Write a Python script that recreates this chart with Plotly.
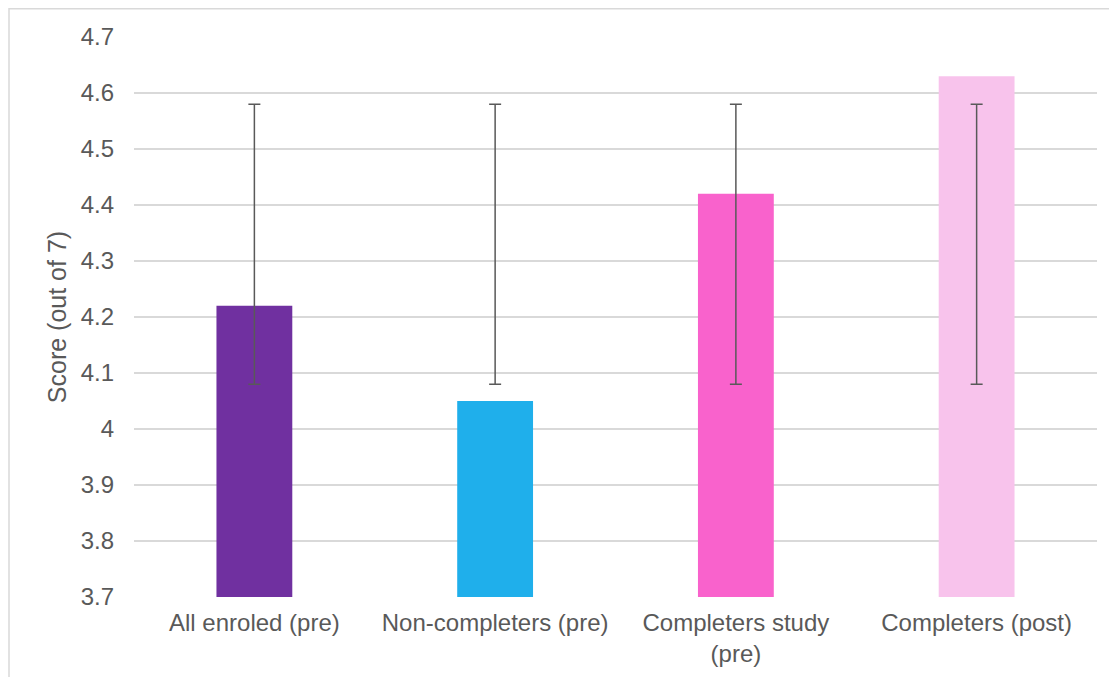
import plotly.graph_objects as go

categories = ["All enroled (pre)", "Non-completers (pre)", "Completers study<br>(pre)", "Completers (post)"]
scores = [4.22, 4.05, 4.42, 4.63]
err_low = [4.08, 4.08, 4.08, 4.08]
err_high = [4.58, 4.58, 4.58, 4.58]
colors = ["#7030A0", "#1FAFEB", "#F962CC", "#F8C3EC"]
y_ticks = [3.7, 3.8, 3.9, 4.0, 4.1, 4.2, 4.3, 4.4, 4.5, 4.6, 4.7]

mid = [(a + b) / 2 for a, b in zip(err_low, err_high)]
half = [(b - a) / 2 for a, b in zip(err_low, err_high)]

font_family = "Liberation Sans, Arial, sans-serif"
grey = "#595959"

fig = go.Figure()
fig.add_trace(go.Bar(
    x=categories, y=scores, marker=dict(color=colors, line=dict(width=0)),
    showlegend=False, hoverinfo="x+y",
))
fig.add_trace(go.Scatter(
    x=categories, y=mid, mode="markers",
    marker=dict(size=1, opacity=0),
    error_y=dict(type="data", array=half, symmetric=True, color=grey, thickness=1.5, width=6),
    showlegend=False, hoverinfo="skip",
))

fig.update_layout(
    width=1117, height=677,
    margin=dict(l=126, r=28, t=29, b=88),
    paper_bgcolor="white", plot_bgcolor="white",
    bargap=0.685,
    font=dict(family=font_family, color=grey, size=22),
    shapes=[dict(type="rect", xref="paper", yref="paper",
                 x0=-0.1298, x1=1.2, y0=-0.3, y1=1.0505,
                 line=dict(color="#d9d9d9", width=1.5), layer="below")],
)
fig.update_xaxes(
    showgrid=False, zeroline=False, showline=False, ticks="",
    tickfont=dict(size=24, color=grey), ticklabelstandoff=9,
)
fig.update_yaxes(
    range=[3.7, 4.7], tickvals=y_ticks, ticktext=[f"{v:g}" for v in y_ticks],
    showgrid=True, gridcolor="#d9d9d9", gridwidth=1.5,
    zeroline=False, showline=False, ticks="",
    tickfont=dict(size=24, color=grey), ticklabelstandoff=19,
    title=dict(text="Score (out of 7)", font=dict(size=25, color=grey), standoff=6),
)

fig.write_html("out.html")
